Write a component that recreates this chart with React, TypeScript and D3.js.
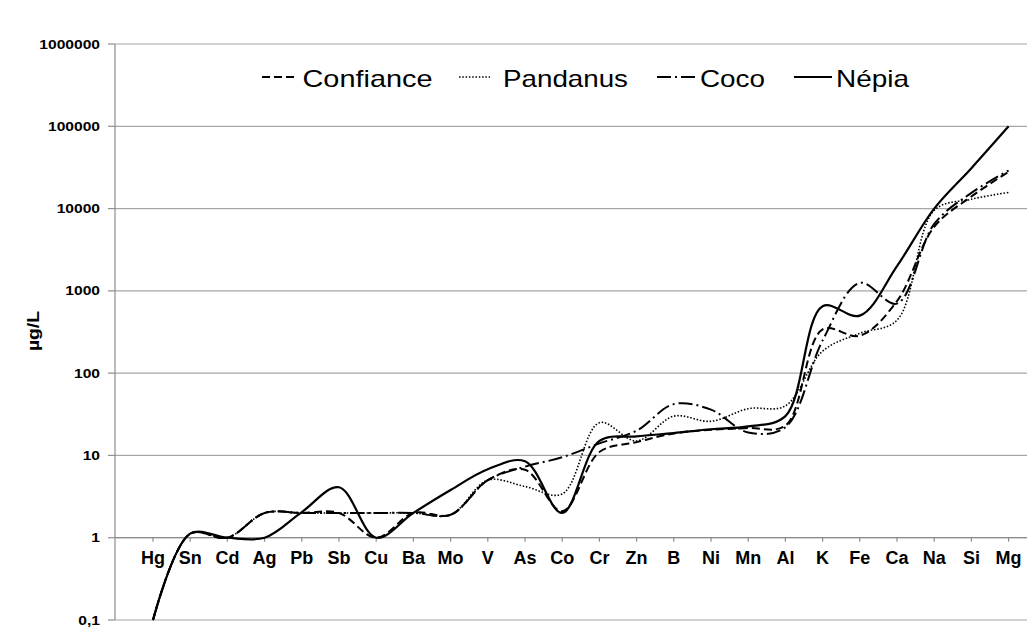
import React from 'react';
import * as d3 from 'd3';

const categories = ['Hg','Sn','Cd','Ag','Pb','Sb','Cu','Ba','Mo','V','As','Co','Cr','Zn','B','Ni','Mn','Al','K','Fe','Ca','Na','Si','Mg'];

const confiance = [0.1,1.12,1,2,2,2,1,2,1.9,5,6.7,2.1,11,14.5,18.5,20.5,21.5,23,340,285,750,6000,14000,28000];
const pandanus = [0.1,1.12,1,2,2,2,2,2,1.9,5,4.2,3.4,25,15,30,26,37,40,185,305,440,9500,13000,15700];
const coco = [0.1,1.12,1,2,2,2,2,2,1.9,5,7.3,9.5,14,20,42,36,19,22,250,1250,700,6500,15500,29000];
const nepia = [0.1,1.12,1,1,2.05,4.1,1,2,3.8,6.8,8.5,2,15,17,18.7,20.8,22.5,30,650,500,2000,10000,31000,100000];

const yTicks = [0.1, 1, 10, 100, 1000, 10000, 100000, 1000000];
const yTickLabels = ['0,1', '1', '10', '100', '1000', '10000', '100000', '1000000'];

const seriesNames = ['Confiance', 'Pandanus', 'Coco', 'Népia'];

const FONT = '"Liberation Sans", Arial, sans-serif';

export default function App() {
  const W = 1027, H = 630;
  const x = d3.scalePoint<string>().domain(categories).range([153, 1008.6]);
  const y = d3.scaleLog().domain([0.1, 1000000]).range([620, 44]);
  const axisLeft = 115;

  const styles = [
    { data: confiance, dash: '8,4', width: 2 },
    { data: pandanus, dash: '1.5,1.8', width: 1.6 },
    { data: coco, dash: '14,4,2,4', width: 2 },
    { data: nepia, dash: null as string | null, width: 2.2 },
  ];

  const line = d3.line<number>()
    .x((_, i) => x(categories[i]) as number)
    .y((d) => y(d))
    .curve(d3.curveCatmullRom.alpha(0.5));

  const legendItems = [
    { x0: 262, x1: 294, tx: 302.5, tl: 130, dash: '8,4', width: 2 },
    { x0: 459, x1: 490, tx: 503, tl: 125, dash: '1.5,1.8', width: 1.6 },
    { x0: 657, x1: 697, tx: 700, tl: 65, dash: '14,4,2,4', width: 2 },
    { x0: 794, x1: 832, tx: 836, tl: 73, dash: null as string | null, width: 2.2 },
  ];

  return (
    <svg width={W} height={H} style={{ position: 'absolute', left: 0, top: 0, background: '#fff' }} fontFamily={FONT}>
      <rect x={0} y={0} width={W} height={H} fill="#fff" />
      {/* gridlines */}
      {yTicks.map((t) => (
        <line key={'g' + t} x1={axisLeft} x2={W} y1={y(t)} y2={y(t)} stroke="#a6a6a6" strokeWidth={1.2} />
      ))}
      {/* y axis */}
      <line x1={axisLeft} x2={axisLeft} y1={y(1000000)} y2={y(0.1)} stroke="#8c8c8c" strokeWidth={1.2} />
      {yTicks.map((t, i) => (
        <g key={'t' + t}>
          <line x1={axisLeft - 7} x2={axisLeft} y1={y(t)} y2={y(t)} stroke="#8c8c8c" strokeWidth={1.2} />
          <text transform={`translate(100,${y(t) + 4.5}) scale(1.2,1)`} textAnchor="end" fontSize={13} fontWeight="bold" fill="#000">
            {yTickLabels[i]}
          </text>
        </g>
      ))}
      {/* x axis at value 1 */}
      <line x1={axisLeft} x2={W} y1={y(1)} y2={y(1)} stroke="#8c8c8c" strokeWidth={1.2} />
      {categories.map((c) => (
        <g key={'c' + c}>
          <line x1={x(c)} x2={x(c)} y1={y(1)} y2={y(1) + 4} stroke="#8c8c8c" strokeWidth={1.2} />
          <text x={x(c)} y={564} textAnchor="middle" fontSize={18} fontWeight="bold" fill="#000">{c}</text>
        </g>
      ))}
      {/* y label */}
      <text transform="translate(39,331) rotate(-90)" textAnchor="middle" fontSize={16} fontWeight="bold" textLength={40} lengthAdjust="spacingAndGlyphs" fill="#000">µg/L</text>
      {/* series */}
      {styles.map((s, i) => (
        <path key={'s' + i} d={line(s.data) as string} fill="none" stroke="#000" strokeWidth={s.width}
          strokeDasharray={s.dash ?? undefined} strokeLinejoin="round" />
      ))}
      {/* legend */}
      {legendItems.map((l, i) => (
        <g key={'l' + i}>
          <line x1={l.x0} x2={l.x1} y1={77} y2={77} stroke="#000" strokeWidth={l.width} strokeDasharray={l.dash ?? undefined} />
          <text x={l.tx} y={86.5} fontSize={24} fill="#000" textLength={l.tl} lengthAdjust="spacingAndGlyphs">{seriesNames[i]}</text>
        </g>
      ))}
    </svg>
  );
}
